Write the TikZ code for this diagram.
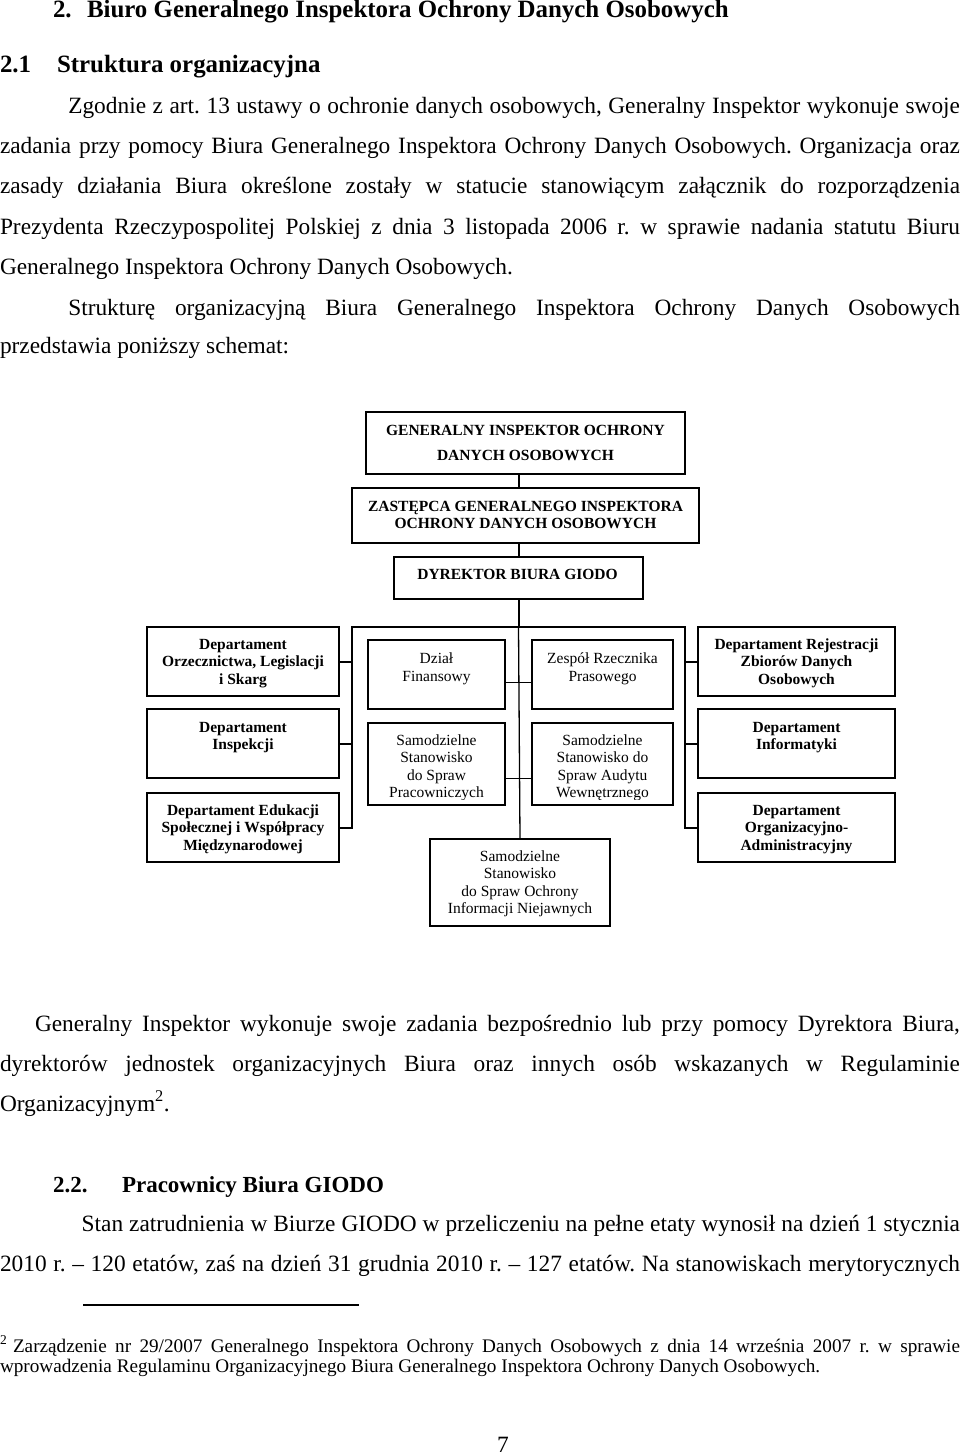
\documentclass[tikz,border=0pt]{standalone}
\usepackage{fontspec}
\setmainfont{Liberation Serif}
\usetikzlibrary{calc}
\frenchspacing
\newcommand\bodyfont{\fontsize{23.35}{40}\selectfont}
\newcommand\headfont{\fontsize{24.9}{30}\selectfont\bfseries}
\newcommand\subheadfont{\fontsize{23}{28}\selectfont\bfseries}
\newcommand\notefont{\fontsize{19.2}{22}\selectfont}
\newcommand\bx[1]{\fontsize{15.5}{#1}\selectfont}
\tikzset{
  txt/.style={anchor=base west, inner sep=0, outer sep=0},
  bigbox/.style={draw, line width=2pt, anchor=north west, inner sep=0, outer sep=0},
  smallbox/.style={draw, line width=1.2pt, anchor=north west, inner sep=0, outer sep=0},
  blab/.style={anchor=north, inner sep=0, outer sep=0, align=center, font=\bx{17.6}\bfseries},
  rlab/.style={anchor=north, inner sep=0, outer sep=0, align=center, font=\bx{17.6}},
  mainline/.style={line width=2pt},
  thinline/.style={line width=1pt},
  midline/.style={line width=1.3pt}
}
\newcommand\jl[5]{\node[txt,font=\bodyfont] (#1) at (#2,#3) {\makebox[#4pt][s]{#5}};}
\begin{document}
\begin{tikzpicture}[x=1pt,y=-1pt]
\fill[white] (0,0) rectangle (960,1455);
\useasboundingbox (0,0) rectangle (960,1455);

% ---------- headings and text above ----------
\node[txt,font=\headfont] (h1n) at (53,17.3) {2.};
\node[txt,font=\headfont] (h1t) at (87,17.3) {Biuro Generalnego Inspektora Ochrony Danych Osobowych};
\node[txt,font=\headfont] (h2n) at (0,72.7) {2.1};
\node[txt,font=\headfont] (h2t) at (57,72.7) {Struktura organizacyjna};

\jl{p1a}{68.3}{113.3}{891.7}{Zgodnie z art. 13 ustawy o ochronie danych osobowych, Generalny Inspektor wykonuje swoje}
\jl{p1b}{0}{153.6}{960}{zadania przy pomocy Biura Generalnego Inspektora Ochrony Danych Osobowych. Organizacja oraz}
\jl{p1c}{0}{194}{960}{zasady działania Biura określone zostały w statucie stanowiącym załącznik do rozporządzenia}
\jl{p1d}{0}{234.3}{960}{Prezydenta Rzeczypospolitej Polskiej z dnia 3 listopada 2006 r. w sprawie nadania statutu Biuru}
\node[txt,font=\bodyfont] (p1e) at (0,274.6) {Generalnego Inspektora Ochrony Danych Osobowych.};
\jl{p2a}{68.3}{315}{891.7}{Strukturę organizacyjną Biura Generalnego Inspektora Ochrony Danych Osobowych}
\node[txt,font=\bodyfont] (p2b) at (0,353.5) {przedstawia poniższy schemat:};

% ---------- organisation chart ----------
\node[bigbox, minimum width=319pt, minimum height=62pt] (gi) at (366,412) {};
\node[bigbox, minimum width=347pt, minimum height=55pt] (zast) at (352,488) {};
\node[bigbox, minimum width=249pt, minimum height=42pt] (dyr) at (394,557) {};

\node[bigbox, minimum width=192pt, minimum height=69pt] (orz) at (147,627) {};
\node[bigbox, minimum width=192pt, minimum height=69pt] (insp) at (147,709) {};
\node[bigbox, minimum width=192pt, minimum height=69pt] (edu) at (147,793) {};
\node[bigbox, minimum width=197pt, minimum height=69pt] (rej) at (698,627) {};
\node[bigbox, minimum width=197pt, minimum height=69pt] (inf) at (698,709) {};
\node[bigbox, minimum width=197pt, minimum height=69pt] (org) at (698,793) {};

\node[smallbox, minimum width=137pt, minimum height=69pt] (fin) at (368,640) {};
\node[smallbox, minimum width=141pt, minimum height=69pt] (rzecz) at (532,640) {};
\node[smallbox, minimum width=137pt, minimum height=82pt] (prac) at (368,723) {};
\node[smallbox, minimum width=141pt, minimum height=82pt] (aud) at (532,723) {};
\node[smallbox, minimum width=180pt, minimum height=87pt] (niej) at (430,839) {};

% labels
\node[blab, font=\bx{25}\bfseries] (tgi) at (525.5,417.5) {\strut GENERALNY INSPEKTOR OCHRONY\\DANYCH OSOBOWYCH};
\node[blab, font=\bx{17}\bfseries] (tzast) at (525.5,499.1) {\strut ZASTĘPCA GENERALNEGO INSPEKTORA\\OCHRONY DANYCH OSOBOWYCH};
\node[blab] (tdyr) at (517.5,566.7) {\strut DYREKTOR BIURA GIODO};
\node[blab, font=\bx{17.5}\bfseries] (torz) at (243,636.75) {\strut Departament\\Orzecznictwa, Legislacji\\i Skarg};
\node[blab] (tinsp) at (243,719.7) {\strut Departament\\Inspekcji};
\node[blab] (tedu) at (243,802.7) {\strut Departament Edukacji\\Społecznej i Współpracy\\Międzynarodowej};
\node[blab, font=\bx{17.5}\bfseries] (trej) at (796.5,636.75) {\strut Departament Rejestracji\\Zbiorów Danych\\Osobowych};
\node[blab] (tinf) at (796.5,719.7) {\strut Departament\\Informatyki};
\node[blab] (torg) at (796.5,802.7) {\strut Departament\\Organizacyjno-\\Administracyjny};
\node[rlab, font=\bx{18}] (tfin) at (436.5,650.4) {\strut Dział\\Finansowy};
\node[rlab, font=\bx{18}] (trzecz) at (602.5,650.4) {\strut Zespół Rzecznika\\Prasowego};
\begin{scope}
\clip (368,723) rectangle (673,799.3);
\node[rlab] (tprac) at (436.5,732.7) {\strut Samodzielne\\Stanowisko\\do Spraw\\Pracowniczych};
\node[rlab] (taud) at (602.5,732.7) {\strut Samodzielne\\Stanowisko do\\Spraw Audytu\\Wewnętrznego};
\end{scope}
\node[rlab] (tniej) at (520,848.7) {\strut Samodzielne\\Stanowisko\\do Spraw Ochrony\\Informacji Niejawnych};

% connectors
\coordinate (ftop) at (518.5,627);
\coordinate (fL) at (352,627);
\coordinate (fR) at (685,627);
\coordinate (hA) at (518.5,682);
\coordinate (hB) at (518.5,778);
\draw[mainline] (gi.south -| dyr.north) -- (zast.north -| dyr.north);
\draw[mainline] (zast.south -| dyr.north) -- (dyr.north);
\draw[mainline] (dyr.south) -- (ftop);
\draw[mainline] (edu.east) -| (fL) -- (fR) |- (org.west);
\draw[mainline] (orz.east) -- (orz.east -| fL);
\draw[mainline] (insp.east) -- (insp.east -| fL);
\draw[mainline] (rej.west) -- (rej.west -| fR);
\draw[mainline] (inf.west) -- (inf.west -| fR);
\draw[midline] (ftop) -- (niej.north);
\draw[thinline] (hA -| fin.east) -- (hA -| rzecz.west);
\draw[thinline] (hB -| prac.east) -- (hB -| aud.west);

% ---------- text below ----------
\jl{p3a}{35}{1031}{925}{Generalny Inspektor wykonuje swoje zadania bezpośrednio lub przy pomocy Dyrektora Biura,}
\jl{p3b}{0}{1071.5}{960}{dyrektorów jednostek organizacyjnych Biura oraz innych osób wskazanych w Regulaminie}
\node[txt,font=\bodyfont] (p3c) at (0,1111) {Organizacyjnym\textsuperscript{2}.};

\node[txt,font=\subheadfont] (h3n) at (53,1192) {2.2.};
\node[txt,font=\subheadfont] (h3t) at (122,1192) {Pracownicy Biura GIODO};

\jl{p4a}{81.7}{1231}{878.3}{Stan zatrudnienia w Biurze GIODO w przeliczeniu na pełne etaty wynosił na dzień 1 stycznia}
\jl{p4b}{0}{1271}{960}{2010 r. – 120 etatów, zaś na dzień 31 grudnia 2010 r. – 127 etatów. Na stanowiskach merytorycznych}

\coordinate (ruleA) at (83,1305);
\coordinate (ruleB) at (359,1305);
\draw[line width=1.2pt] (ruleA) -- (ruleB);

\node[txt,font=\notefont] (fnmark) at (0,1352) {\textsuperscript{2}};
\node[txt,font=\notefont] (fn1) at (13,1352) {\makebox[947pt][s]{Zarządzenie nr 29/2007 Generalnego Inspektora Ochrony Danych Osobowych z dnia 14 września 2007 r. w sprawie}};
\node[txt,font=\notefont] (fn2) at (0,1372) {wprowadzenia Regulaminu Organizacyjnego Biura Generalnego Inspektora Ochrony Danych Osobowych.};

\node[anchor=base, inner sep=0, font=\bodyfont] (pageno) at (503,1452) {7};
\end{tikzpicture}
\end{document}
